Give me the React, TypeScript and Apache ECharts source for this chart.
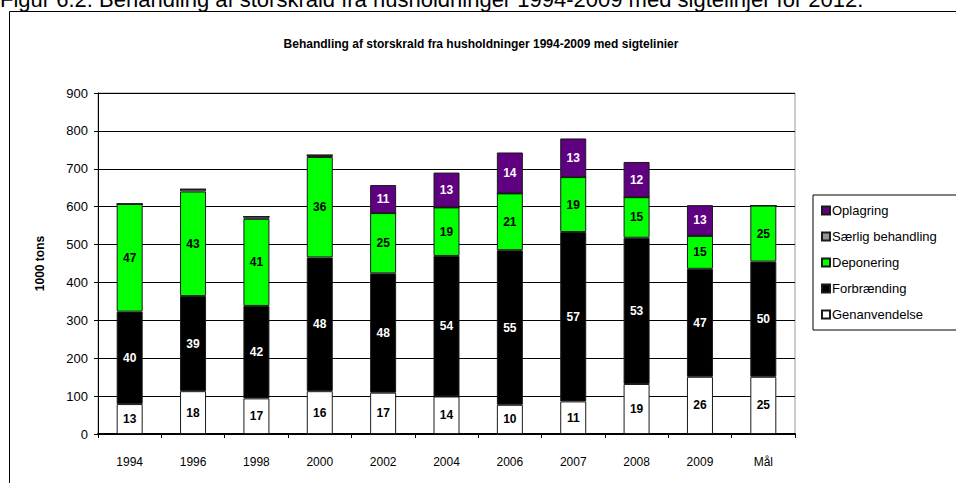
import React, { useEffect, useRef } from "react";
import * as echarts from "echarts";

const categories = ["1994", "1996", "1998", "2000", "2002", "2004", "2006", "2007", "2008", "2009", "Mål"];

// values in 1000 tons
const genanvendelse = [79, 113, 94, 113, 109, 99, 77, 86, 132, 151, 151];
const forbraending = [244, 251, 244, 353, 315, 371, 408, 447, 386, 285, 304];
const deponering = [284, 276, 230, 265, 159, 128, 150, 145, 107, 87, 148];
const saerlig = [0, 6, 6, 5, 0, 0, 0, 0, 0, 0, 0];
const oplagring = [0, 0, 0, 0, 74, 92, 108, 102, 93, 81, 0];

// percentage labels shown in the bars
const pctGen = [13, 18, 17, 16, 17, 14, 10, 11, 19, 26, 25];
const pctFor = [40, 39, 42, 48, 48, 54, 55, 57, 53, 47, 50];
const pctDep = [47, 43, 41, 36, 25, 19, 21, 19, 15, 15, 25];
const pctOpl: (number | null)[] = [null, null, null, null, 11, 13, 14, 13, 12, 13, null];

const yTicks = [0, 100, 200, 300, 400, 500, 600, 700, 800, 900];

const FONT = "Arial, 'Liberation Sans', sans-serif";

export default function App() {
  const ref = useRef<HTMLDivElement>(null);
  useEffect(() => {
    if (!ref.current) return;
    const chart = echarts.init(ref.current, null, { renderer: "svg" });
    const mk = (
      name: string,
      values: number[],
      color: string,
      pct: (number | null)[] | null,
      labelColor: string
    ) => ({
      name,
      type: "bar",
      stack: "total",
      barWidth: 26,
      data: values,
      itemStyle: { color, borderColor: "#1a1a1a", borderWidth: 1 },
      label: {
        show: !!pct,
        position: "inside",
        color: labelColor,
        fontFamily: FONT,
        fontWeight: "bold",
        fontSize: 12,
        formatter: (p: any) => {
          if (!pct) return "";
          const v = pct[p.dataIndex];
          return v == null ? "" : String(v);
        },
      },
    });
    chart.setOption({
      animation: false,
      textStyle: { fontFamily: FONT },
      title: {
        text: "Behandling af storskrald fra husholdninger 1994-2009 med sigtelinier",
        left: 476,
        textAlign: "center",
        top: 33,
        textStyle: { fontFamily: FONT, fontSize: 12, fontWeight: "bold", color: "#000" },
      },
      graphic: [
        {
          type: "rect",
          shape: { x: 9.5, y: 11.5, width: 1000, height: 500 },
          style: { fill: "none", stroke: "#000", lineWidth: 1 },
          silent: true,
        },
        {
          type: "text",
          x: 0,
          y: -12,
          style: {
            text: "Figur 6.2. Behandling af storskrald fra husholdninger 1994-2009 med sigtelinjer for 2012.",
            font: "22px Arial, 'Liberation Sans', sans-serif",
            fill: "#000",
          },
          silent: true,
        },
      ],
      legend: {
        orient: "vertical",
        left: 813,
        top: 195,
        padding: [9, 22, 9, 8],
        itemGap: 13,
        itemWidth: 8,
        itemHeight: 8,
        borderColor: "#000",
        borderWidth: 1,
        icon: "rect",
        textStyle: { fontFamily: FONT, fontSize: 13, color: "#000", padding: [0, 0, 0, -3] },
        data: ["Oplagring", "Særlig behandling", "Deponering", "Forbrænding", "Genanvendelse"],
      },
      grid: {
        left: 98,
        right: 161,
        top: 93,
        bottom: 49,
        show: true,
        borderColor: "#999",
        borderWidth: 1,
      },
      xAxis: {
        type: "category",
        data: categories,
        axisLine: { lineStyle: { color: "#000", width: 2 } },
        axisTick: { show: true, inside: false, length: 4, lineStyle: { color: "#000" } },
        axisLabel: { color: "#000", fontSize: 12, fontFamily: FONT, margin: 22 },
      },
      yAxis: {
        type: "value",
        min: yTicks[0],
        max: yTicks[yTicks.length - 1],
        interval: 100,
        name: "1000 tons",
        nameLocation: "middle",
        nameRotate: 90,
        nameGap: 52,
        nameTextStyle: { fontFamily: FONT, fontWeight: "bold", fontSize: 12, color: "#000" },
        axisLine: { show: true, lineStyle: { color: "#000", width: 1 } },
        axisTick: { show: true, length: 4, lineStyle: { color: "#000" } },
        axisLabel: { color: "#000", fontSize: 13, fontFamily: FONT, margin: 10 },
        splitLine: { show: true, lineStyle: { color: "#000", width: 1 } },
      },
      series: [
        mk("Genanvendelse", genanvendelse, "#ffffff", pctGen, "#000"),
        mk("Forbrænding", forbraending, "#000000", pctFor, "#fff"),
        mk("Deponering", deponering, "#00ff00", pctDep, "#000"),
        mk("Særlig behandling", saerlig, "#969696", null, "#000"),
        mk("Oplagring", oplagring, "#5e0080", pctOpl, "#fff"),
      ],
    });
    return () => chart.dispose();
  }, []);
  return (
    <div
      ref={ref}
      style={{ position: "fixed", left: 0, top: 0, width: 956, height: 483, background: "#fff" }}
    />
  );
}
